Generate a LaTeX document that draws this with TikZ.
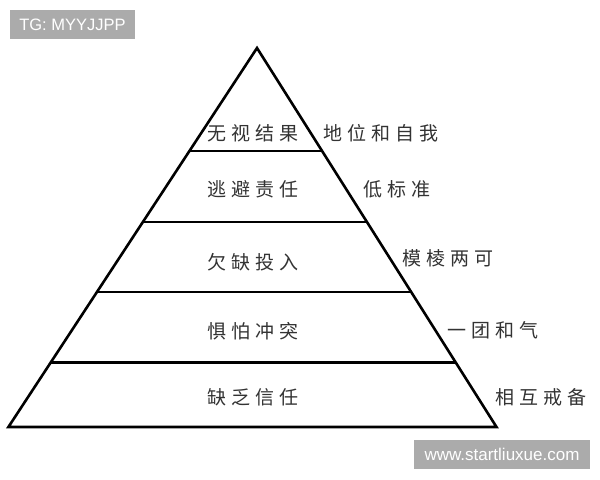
\documentclass[tikz,border=0pt]{standalone}
\usepackage{fontspec}
\setmainfont{Liberation Sans}
\newfontfamily\cjk{Noto Sans CJK SC}
\usetikzlibrary{calc}
\newcommand\sepx{\hspace{5bp}}
\tikzset{
  pyr/.style={line width=2.6bp, line join=miter, draw=black},
  lvl/.style={line width=2.6bp, draw=black},
  mid/.style={inner sep=0pt, font=\cjk\fontsize{19bp}{22bp}\selectfont, text=black!80},
  side/.style={inner sep=0pt, anchor=west, font=\cjk\fontsize{19bp}{22bp}\selectfont, text=black!80},
  tag/.style={fill=black!33, text=white, inner sep=0pt, font=\fontsize{16.5bp}{18bp}\selectfont},
}
\begin{document}
\begin{tikzpicture}[x=1bp,y=-1bp]
\useasboundingbox (0,0) rectangle (600,480);
\fill[white] (0,0) rectangle (600,480);
% pyramid corners
\coordinate (A) at (257,48);
\coordinate (BL) at (8.4,427);
\coordinate (BR) at (496.5,427);
\foreach \n/\t in {1/0.2718,2/0.4591,3/0.6438,4/0.8298}{
  \coordinate (L\n) at ($(A)!\t!(BL)$);
  \coordinate (R\n) at ($(A)!\t!(BR)$);
}
\draw[pyr] (A) -- (BR) -- (BL) -- cycle;
\foreach \n in {1,2,3,4}{ \draw[lvl] (L\n) -- (R\n); }
% level labels
\node[mid] (m1) at (253,133) {无\sepx 视\sepx 结\sepx 果};
\node[mid] (m2) at (253,189) {逃\sepx 避\sepx 责\sepx 任};
\node[mid] (m3) at (253,262) {欠\sepx 缺\sepx 投\sepx 入};
\node[mid] (m4) at (253,331) {惧\sepx 怕\sepx 冲\sepx 突};
\node[mid] (m5) at (253,397) {缺\sepx 乏\sepx 信\sepx 任};
% side labels
\node[side] (s1) at (323,133) {地\sepx 位\sepx 和\sepx 自\sepx 我};
\node[side] (s2) at (363,189) {低\sepx 标\sepx 准};
\node[side] (s3) at (402,258) {模\sepx 棱\sepx 两\sepx 可};
\node[side] (s4) at (447,330) {一\sepx 团\sepx 和\sepx 气};
\node[side] (s5) at (495,397) {相\sepx 互\sepx 戒\sepx 备};
% watermark tags
\node[tag, minimum width=125bp, minimum height=29bp] (t1) at (72.5,24.5) {TG: MYYJJPP};
\node[tag, minimum width=176bp, minimum height=29bp, font=\fontsize{17bp}{19bp}\selectfont] (t2) at (502,454.5) {www.startliuxue.com};
\end{tikzpicture}
\end{document}
